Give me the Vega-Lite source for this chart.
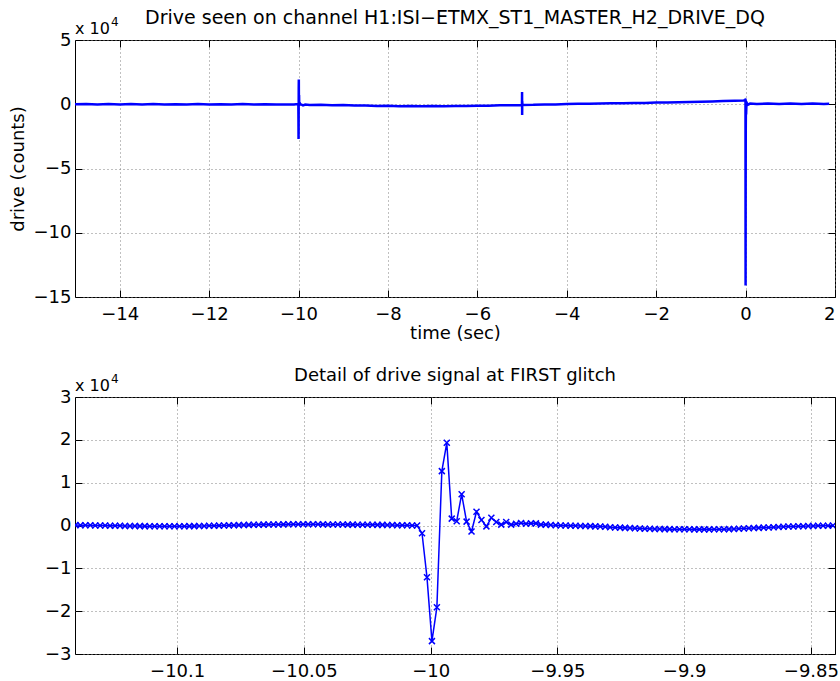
{
  "$schema": "https://vega.github.io/schema/vega-lite/v6.json",
  "background": "white",
  "padding": {"left": 8, "top": 8, "right": 4, "bottom": 4},
  "spacing": 23,
  "config": {
    "font": "DejaVu Sans",
    "view": {"stroke": "black", "strokeWidth": 1},
    "title": {"font": "DejaVu Sans", "fontSize": 18, "fontWeight": "normal", "color": "black", "offset": 8, "dy": 20},
    "axis": {
      "labelFont": "DejaVu Sans", "labelFontSize": 18, "labelColor": "black",
      "titleFont": "DejaVu Sans", "titleFontSize": 18, "titleFontWeight": "normal", "titleColor": "black",
      "tickColor": "black", "tickSize": -7, "tickWidth": 1,
      "domain": false, "grid": true, "gridColor": "#808080", "gridDash": [1, 3], "gridWidth": 1, "gridOpacity": 1
    },
    "axisX": {"labelPadding": 15, "titlePadding": 1},
    "axisY": {"labelPadding": 11, "titlePadding": 6}
  },
  "datasets": {
    "overview": [
      {"t": -15, "drive": 0}, {"t": -14.75, "drive": 150}, {"t": -14.5, "drive": -100}, {"t": -14.25, "drive": 100},
      {"t": -14, "drive": -150}, {"t": -13.75, "drive": 100}, {"t": -13.5, "drive": -100}, {"t": -13.25, "drive": 150},
      {"t": -13, "drive": -100}, {"t": -12.75, "drive": 50}, {"t": -12.5, "drive": -150}, {"t": -12.25, "drive": 100},
      {"t": -12, "drive": -100}, {"t": -11.75, "drive": 50}, {"t": -11.5, "drive": -150}, {"t": -11.25, "drive": 100},
      {"t": -11, "drive": -200}, {"t": -10.75, "drive": 0}, {"t": -10.5, "drive": -200}, {"t": -10.25, "drive": -100},
      {"t": -10.1, "drive": -150}, {"t": -10.02, "drive": 100}, {"t": -10.004, "drive": 0},
      {"t": -10.0015, "drive": -12100}, {"t": -9.9995, "drive": -27000}, {"t": -9.9976, "drive": -19100},
      {"t": -9.9956, "drive": 12700}, {"t": -9.9936, "drive": 19300}, {"t": -9.9917, "drive": 1700},
      {"t": -9.9878, "drive": 7200}, {"t": -9.984, "drive": -1400}, {"t": -9.98, "drive": 1300},
      {"t": -9.97, "drive": 500}, {"t": -9.95, "drive": 0}, {"t": -9.9, "drive": -900}, {"t": -9.85, "drive": -200},
      {"t": -9.75, "drive": -500}, {"t": -9.5, "drive": -300}, {"t": -9.25, "drive": -700}, {"t": -9, "drive": -500},
      {"t": -8.75, "drive": -1000}, {"t": -8.5, "drive": -900}, {"t": -8.25, "drive": -1300}, {"t": -8, "drive": -1200},
      {"t": -7.75, "drive": -1500}, {"t": -7.5, "drive": -1300}, {"t": -7.25, "drive": -1600}, {"t": -7, "drive": -1400},
      {"t": -6.75, "drive": -1600}, {"t": -6.5, "drive": -1300}, {"t": -6.25, "drive": -1400}, {"t": -6, "drive": -1100},
      {"t": -5.75, "drive": -1100}, {"t": -5.5, "drive": -800}, {"t": -5.25, "drive": -800}, {"t": -5.004, "drive": -500},
      {"t": -5.002, "drive": -500}, {"t": -5, "drive": 9600}, {"t": -4.998, "drive": -8400}, {"t": -4.996, "drive": 2000},
      {"t": -4.992, "drive": -500}, {"t": -4.75, "drive": -400}, {"t": -4.5, "drive": -100}, {"t": -4.25, "drive": -100},
      {"t": -4, "drive": 200}, {"t": -3.75, "drive": 300}, {"t": -3.5, "drive": 400}, {"t": -3.25, "drive": 600},
      {"t": -3, "drive": 700}, {"t": -2.75, "drive": 800}, {"t": -2.5, "drive": 1000}, {"t": -2.25, "drive": 1000},
      {"t": -2, "drive": 1300}, {"t": -1.75, "drive": 1400}, {"t": -1.5, "drive": 1600}, {"t": -1.25, "drive": 1800},
      {"t": -1, "drive": 2000}, {"t": -0.75, "drive": 2200}, {"t": -0.5, "drive": 2500}, {"t": -0.25, "drive": 2700},
      {"t": -0.05, "drive": 3000}, {"t": -0.004, "drive": 3200}, {"t": -0.002, "drive": 4400},
      {"t": 0, "drive": -141000}, {"t": 0.002, "drive": -60000}, {"t": 0.004, "drive": -20000},
      {"t": 0.008, "drive": 2000}, {"t": 0.012, "drive": -8000}, {"t": 0.02, "drive": 1500}, {"t": 0.05, "drive": -500},
      {"t": 0.1, "drive": 500}, {"t": 0.25, "drive": 200}, {"t": 0.5, "drive": 600}, {"t": 0.75, "drive": 200},
      {"t": 1, "drive": 500}, {"t": 1.25, "drive": 100}, {"t": 1.5, "drive": 500}, {"t": 1.75, "drive": 200},
      {"t": 1.87, "drive": 400}
    ],
    "detail": [
      {"t": -10.14013, "drive": 100}, {"t": -10.13817, "drive": 80}, {"t": -10.13622, "drive": 60}, {"t": -10.13427, "drive": 50},
      {"t": -10.13231, "drive": 20}, {"t": -10.13036, "drive": 0}, {"t": -10.12841, "drive": -20}, {"t": -10.12645, "drive": -40},
      {"t": -10.1245, "drive": -60}, {"t": -10.12255, "drive": -80}, {"t": -10.12059, "drive": -100}, {"t": -10.11864, "drive": -110},
      {"t": -10.11669, "drive": -130}, {"t": -10.11473, "drive": -140}, {"t": -10.11278, "drive": -150}, {"t": -10.11083, "drive": -160},
      {"t": -10.10888, "drive": -170}, {"t": -10.10692, "drive": -170}, {"t": -10.10497, "drive": -180}, {"t": -10.10302, "drive": -180},
      {"t": -10.10106, "drive": -170}, {"t": -10.09911, "drive": -170}, {"t": -10.09716, "drive": -160}, {"t": -10.0952, "drive": -150},
      {"t": -10.09325, "drive": -140}, {"t": -10.0913, "drive": -120}, {"t": -10.08934, "drive": -100}, {"t": -10.08739, "drive": -80},
      {"t": -10.08544, "drive": -60}, {"t": -10.08348, "drive": -30}, {"t": -10.08153, "drive": 0}, {"t": -10.07958, "drive": 30},
      {"t": -10.07763, "drive": 60}, {"t": -10.07567, "drive": 90}, {"t": -10.07372, "drive": 120}, {"t": -10.07177, "drive": 140},
      {"t": -10.06981, "drive": 170}, {"t": -10.06786, "drive": 190}, {"t": -10.06591, "drive": 210}, {"t": -10.06395, "drive": 230},
      {"t": -10.062, "drive": 240}, {"t": -10.06005, "drive": 250}, {"t": -10.05809, "drive": 260}, {"t": -10.05614, "drive": 270},
      {"t": -10.05419, "drive": 270}, {"t": -10.05223, "drive": 280}, {"t": -10.05028, "drive": 280}, {"t": -10.04833, "drive": 280},
      {"t": -10.04638, "drive": 270}, {"t": -10.04442, "drive": 270}, {"t": -10.04247, "drive": 260}, {"t": -10.04052, "drive": 250},
      {"t": -10.03856, "drive": 240}, {"t": -10.03661, "drive": 230}, {"t": -10.03466, "drive": 220}, {"t": -10.0327, "drive": 210},
      {"t": -10.03075, "drive": 200}, {"t": -10.0288, "drive": 190}, {"t": -10.02684, "drive": 180}, {"t": -10.02489, "drive": 170},
      {"t": -10.02294, "drive": 160}, {"t": -10.02098, "drive": 150}, {"t": -10.01903, "drive": 140}, {"t": -10.01708, "drive": 120},
      {"t": -10.01513, "drive": 100}, {"t": -10.01317, "drive": 80}, {"t": -10.01122, "drive": 60}, {"t": -10.00927, "drive": 40},
      {"t": -10.00731, "drive": 20}, {"t": -10.00536, "drive": 0}, {"t": -10.00341, "drive": -1800}, {"t": -10.00145, "drive": -12100},
      {"t": -9.9995, "drive": -27000}, {"t": -9.99755, "drive": -19100}, {"t": -9.99559, "drive": 12700}, {"t": -9.99364, "drive": 19300},
      {"t": -9.99169, "drive": 1600}, {"t": -9.98973, "drive": 1000}, {"t": -9.98778, "drive": 7300}, {"t": -9.98583, "drive": 900},
      {"t": -9.98388, "drive": -1400}, {"t": -9.98192, "drive": 3200}, {"t": -9.97997, "drive": 1300}, {"t": -9.97802, "drive": -200},
      {"t": -9.97606, "drive": 1800}, {"t": -9.97411, "drive": 800}, {"t": -9.97216, "drive": 200}, {"t": -9.9702, "drive": 800},
      {"t": -9.96825, "drive": 200}, {"t": -9.9663, "drive": 400}, {"t": -9.96434, "drive": 600}, {"t": -9.96239, "drive": 400},
      {"t": -9.96044, "drive": 500}, {"t": -9.95848, "drive": 500}, {"t": -9.95653, "drive": 200}, {"t": -9.95458, "drive": 200},
      {"t": -9.95263, "drive": 100}, {"t": -9.95067, "drive": 50}, {"t": -9.94872, "drive": 0}, {"t": -9.94677, "drive": 0},
      {"t": -9.94481, "drive": -50}, {"t": -9.94286, "drive": -50}, {"t": -9.94091, "drive": -100}, {"t": -9.93895, "drive": -100},
      {"t": -9.937, "drive": -150}, {"t": -9.93505, "drive": -200}, {"t": -9.93309, "drive": -250}, {"t": -9.93114, "drive": -300},
      {"t": -9.92919, "drive": -400}, {"t": -9.92723, "drive": -450}, {"t": -9.92528, "drive": -500}, {"t": -9.92333, "drive": -550},
      {"t": -9.92138, "drive": -600}, {"t": -9.91942, "drive": -650}, {"t": -9.91747, "drive": -700}, {"t": -9.91552, "drive": -750},
      {"t": -9.91356, "drive": -780}, {"t": -9.91161, "drive": -800}, {"t": -9.90966, "drive": -820}, {"t": -9.9077, "drive": -840},
      {"t": -9.90575, "drive": -850}, {"t": -9.9038, "drive": -860}, {"t": -9.90184, "drive": -870}, {"t": -9.89989, "drive": -880},
      {"t": -9.89794, "drive": -890}, {"t": -9.89598, "drive": -900}, {"t": -9.89403, "drive": -900}, {"t": -9.89208, "drive": -900},
      {"t": -9.89013, "drive": -900}, {"t": -9.88817, "drive": -890}, {"t": -9.88622, "drive": -880}, {"t": -9.88427, "drive": -860},
      {"t": -9.88231, "drive": -840}, {"t": -9.88036, "drive": -800}, {"t": -9.87841, "drive": -760}, {"t": -9.87645, "drive": -700},
      {"t": -9.8745, "drive": -650}, {"t": -9.87255, "drive": -600}, {"t": -9.87059, "drive": -550}, {"t": -9.86864, "drive": -500},
      {"t": -9.86669, "drive": -450}, {"t": -9.86473, "drive": -400}, {"t": -9.86278, "drive": -350}, {"t": -9.86083, "drive": -300},
      {"t": -9.85888, "drive": -250}, {"t": -9.85692, "drive": -220}, {"t": -9.85497, "drive": -190}, {"t": -9.85302, "drive": -160},
      {"t": -9.85106, "drive": -130}, {"t": -9.84911, "drive": -100}, {"t": -9.84716, "drive": -80}, {"t": -9.8452, "drive": -60},
      {"t": -9.84325, "drive": -40}, {"t": -9.8413, "drive": -20}
    ]
  },
  "vconcat": [
    {
      "width": 760,
      "height": 257,
      "title": {"text": "Drive seen on channel H1:ISI−ETMX_ST1_MASTER_H2_DRIVE_DQ", "fontSize": 19},
      "layer": [
        {
          "data": {"name": "overview"},
          "mark": {"type": "line", "color": "#0000ff", "strokeWidth": 2.5, "clip": true},
          "encoding": {
            "x": {
              "field": "t", "type": "quantitative",
              "scale": {"domain": [-15, 2], "nice": false, "zero": false},
              "axis": {"title": "time (sec)", "values": [-14, -12, -10, -8, -6, -4, -2, 0, 2], "labelExpr": "format(datum.value, 'd')"}
            },
            "y": {
              "field": "drive", "type": "quantitative",
              "scale": {"domain": [-150000, 50000], "nice": false, "zero": false},
              "axis": {"title": "drive (counts)", "values": [-150000, -100000, -50000, 0, 50000], "labelExpr": "format(datum.value / 10000, 'd')"}
            }
          }
        },
        {
          "data": {"values": [{}]},
          "mark": {"type": "text", "text": "x 10", "align": "left", "baseline": "alphabetic", "dy": -6, "fontSize": 16, "color": "black"},
          "encoding": {
            "x": {"datum": -15, "type": "quantitative", "axis": {"orient": "top", "labels": false, "grid": false, "title": null, "values": [-14, -12, -10, -8, -6, -4, -2, 0, 2]}},
            "y": {"datum": 50000, "type": "quantitative", "axis": {"orient": "right", "labels": false, "grid": false, "title": null, "values": [-150000, -100000, -50000, 0, 50000]}}
          }
        },
        {
          "data": {"values": [{}]},
          "mark": {"type": "text", "text": "4", "align": "left", "baseline": "alphabetic", "dx": 36, "dy": -14, "fontSize": 12, "color": "black"},
          "encoding": {
            "x": {"datum": -15, "type": "quantitative", "axis": null},
            "y": {"datum": 50000, "type": "quantitative", "axis": null}
          }
        }
      ],
      "resolve": {"axis": {"x": "independent", "y": "independent"}}
    },
    {
      "width": 760,
      "height": 257,
      "title": "Detail of drive signal at FIRST glitch",
      "layer": [
        {
          "data": {"name": "detail"},
          "mark": {"type": "line", "color": "#0000ff", "strokeWidth": 1.5, "clip": true},
          "encoding": {
            "x": {
              "field": "t", "type": "quantitative",
              "scale": {"domain": [-10.1403, -9.8405], "nice": false, "zero": false},
              "axis": {"title": null, "values": [-10.1, -10.05, -10, -9.95, -9.9, -9.85], "labelExpr": "format(datum.value, '~g')"}
            },
            "y": {
              "field": "drive", "type": "quantitative",
              "scale": {"domain": [-30000, 30000], "nice": false, "zero": false},
              "axis": {"title": null, "values": [-30000, -20000, -10000, 0, 10000, 20000, 30000], "labelExpr": "format(datum.value / 10000, 'd')"}
            }
          }
        },
        {
          "data": {"name": "detail"},
          "mark": {"type": "point", "shape": "M -1 -1 L 1 1 M -1 1 L 1 -1", "filled": false, "color": "#0000ff", "strokeWidth": 1.5, "size": 36, "opacity": 1, "clip": true},
          "encoding": {
            "x": {"field": "t", "type": "quantitative", "axis": null},
            "y": {"field": "drive", "type": "quantitative", "axis": null}
          }
        },
        {
          "data": {"values": [{}]},
          "mark": {"type": "text", "text": "x 10", "align": "left", "baseline": "alphabetic", "dy": -6, "fontSize": 16, "color": "black"},
          "encoding": {
            "x": {"datum": -10.1403, "type": "quantitative", "axis": {"orient": "top", "labels": false, "grid": false, "title": null, "values": [-10.1, -10.05, -10, -9.95, -9.9, -9.85]}},
            "y": {"datum": 30000, "type": "quantitative", "axis": {"orient": "right", "labels": false, "grid": false, "title": null, "values": [-30000, -20000, -10000, 0, 10000, 20000, 30000]}}
          }
        },
        {
          "data": {"values": [{}]},
          "mark": {"type": "text", "text": "4", "align": "left", "baseline": "alphabetic", "dx": 36, "dy": -14, "fontSize": 12, "color": "black"},
          "encoding": {
            "x": {"datum": -10.1403, "type": "quantitative", "axis": null},
            "y": {"datum": 30000, "type": "quantitative", "axis": null}
          }
        }
      ],
      "resolve": {"axis": {"x": "independent", "y": "independent"}}
    }
  ]
}
